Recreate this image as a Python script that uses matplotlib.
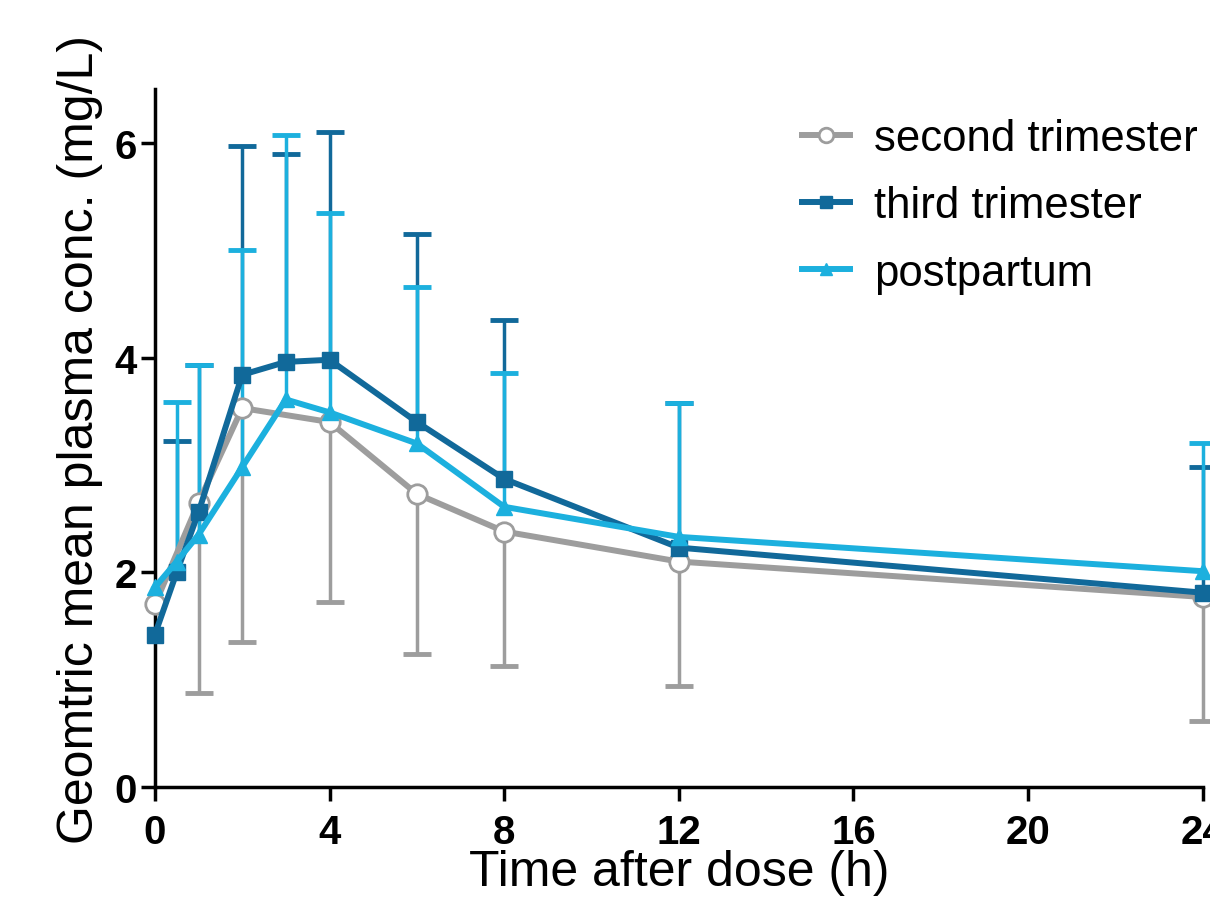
import matplotlib
matplotlib.use('Agg')
import matplotlib.pyplot as plt

plt.rcParams['font.family'] = ['Liberation Sans', 'DejaVu Sans']

# sampling times (h)
t_second = [0, 1, 2, 4, 6, 8, 12, 24]
t_third = [0, 0.5, 1, 2, 3, 4, 6, 8, 12, 24]
t_post = [0, 0.5, 1, 2, 3, 4, 6, 8, 12, 24]

# geometric means (mg/L)
second_mean = [1.70, 2.65, 3.53, 3.40, 2.73, 2.38, 2.10, 1.77]
third_mean = [1.42, 2.00, 2.56, 3.84, 3.96, 3.98, 3.40, 2.87, 2.23, 1.81]
post_mean = [1.86, 2.10, 2.35, 2.98, 3.61, 3.49, 3.20, 2.61, 2.33, 2.01]

# error bar ends (second trimester shows lower bars, the others upper bars;
# no bar at t=0 for third trimester / postpartum)
second_low = [1.70, 0.88, 1.35, 1.72, 1.24, 1.13, 0.94, 0.61]
third_high = [None, 3.22, 3.93, 5.97, 5.90, 6.10, 5.15, 4.35, 3.58, 2.98]
post_high = [None, 3.59, 3.93, 5.00, 6.07, 5.35, 4.66, 3.86, 3.58, 3.20]

c_gray = '#9d9d9d'
c_dark = '#11699a'
c_light = '#1cb0de'

fig = plt.figure(figsize=(12.1, 9.12), dpi=100)
ax = fig.add_axes([0.128, 0.136, 0.866, 0.765])

err_kw = dict(fmt='none', elinewidth=2.5, capsize=10, capthick=3.5, clip_on=False)


def upper_bars(ts, means, highs, color, z):
    pts = [(t, m, h) for t, m, h in zip(ts, means, highs) if h is not None]
    xs = [p[0] for p in pts]
    ys = [p[1] for p in pts]
    up = [p[2] - p[1] for p in pts]
    e = ax.errorbar(xs, ys, yerr=[[0] * len(xs), up], ecolor=color, zorder=z, **err_kw)
    e[1][0].set_visible(False)


lo = [m - l for m, l in zip(second_mean, second_low)]
pts = [(t, m, d) for t, m, d in zip(t_second, second_mean, lo) if d > 0]
e1 = ax.errorbar([p[0] for p in pts], [p[1] for p in pts],
                 yerr=[[p[2] for p in pts], [0] * len(pts)],
                 ecolor=c_gray, zorder=2, **err_kw)
e1[1][1].set_visible(False)
upper_bars(t_third, third_mean, third_high, c_dark, 3)
upper_bars(t_post, post_mean, post_high, c_light, 4)

ax.plot(t_second, second_mean, color=c_gray, lw=4.3, marker='o', ms=14,
        mfc='white', mec=c_gray, mew=2, zorder=5, clip_on=False,
        label='second trimester')
ax.plot(t_third, third_mean, color=c_dark, lw=4.3, marker='s', ms=12,
        mfc=c_dark, mec=c_dark, zorder=6, clip_on=False,
        label='third trimester')
ax.plot(t_post, post_mean, color=c_light, lw=4.3, marker='^', ms=12,
        mfc=c_light, mec=c_light, zorder=7, clip_on=False,
        label='postpartum')

ax.set_xlim(0, 24)
ax.set_ylim(0, 6.5)
ax.set_xticks([0, 4, 8, 12, 16, 20, 24])
ax.set_yticks([0, 2, 4, 6])
for lab in ax.get_xticklabels() + ax.get_yticklabels():
    lab.set_fontweight('bold')
ax.tick_params(axis='both', labelsize=29, width=2.5, length=10, direction='out', pad=3)
ax.tick_params(axis='x', pad=9)

for s in ['top', 'right']:
    ax.spines[s].set_visible(False)
for s in ['left', 'bottom']:
    ax.spines[s].set_linewidth(2.5)

ax.set_xlabel('Time after dose (h)', fontsize=36, labelpad=-2)
ax.set_ylabel('Geomtric mean plasma conc. (mg/L)', fontsize=36, labelpad=8)

ax.legend(loc='upper right', bbox_to_anchor=(1.033, 1.015), frameon=False,
          fontsize=31.5, handlelength=1.1, handletextpad=0.55, labelspacing=0.6,
          markerscale=0.75)

fig.savefig('out.png', dpi=100)
